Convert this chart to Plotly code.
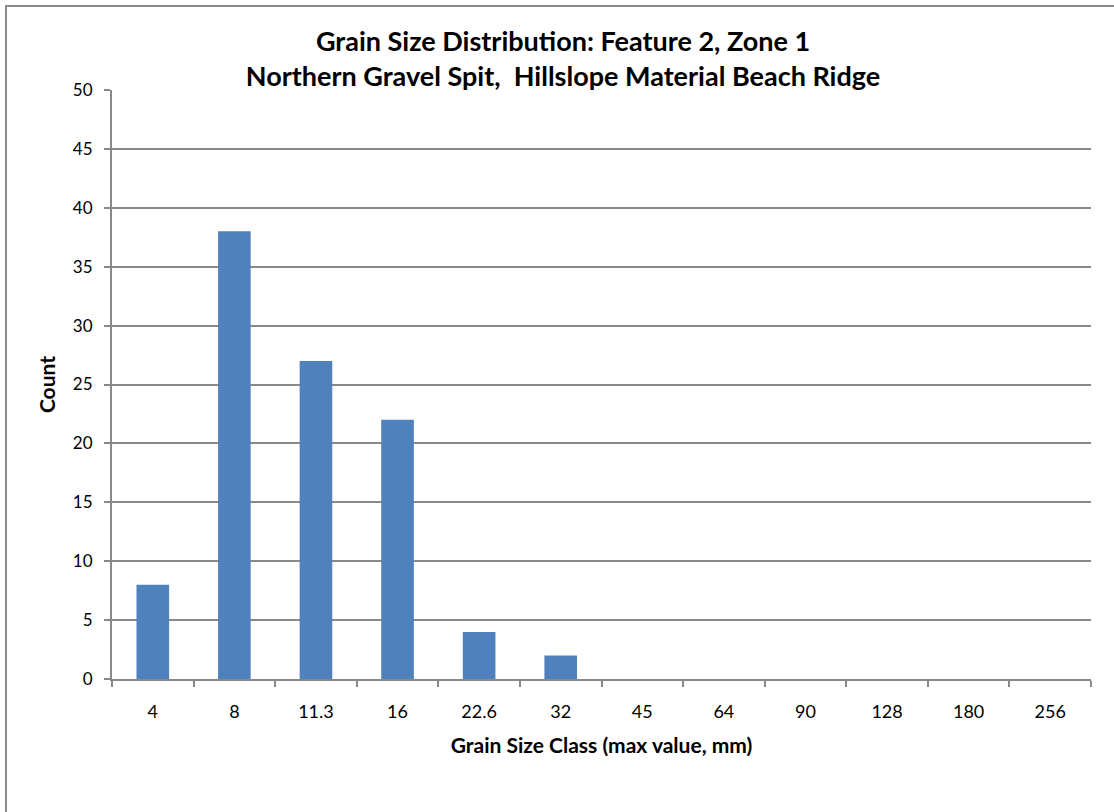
import plotly.graph_objects as go

categories = ["4", "8", "11.3", "16", "22.6", "32", "45", "64", "90", "128", "180", "256"]
counts = [8, 38, 27, 22, 4, 2, 0, 0, 0, 0, 0, 0]

title_lines = ["Grain Size Distribution: Feature 2, Zone 1",
               "Northern Gravel Spit,  Hillslope Material Beach Ridge"]

FONT = "Lato, 'Open Sans', sans-serif"
GRID = "#898989"

fig = go.Figure()
fig.add_trace(go.Bar(x=categories, y=counts, marker=dict(color="#4F81BD", line=dict(width=0)),
                     showlegend=False))

fig.update_layout(
    width=1114, height=812,
    margin=dict(l=112, r=23, t=90, b=133),
    paper_bgcolor="white", plot_bgcolor="white",
    bargap=0.6,
    font=dict(family=FONT, color="black", size=17),
    title=dict(text="<b>" + title_lines[0] + "<br>" + title_lines[1] + "</b>",
               x=563/1114, xref="container", xanchor="center",
               y=1 - 51/812, yref="container", yanchor="middle",
               font=dict(size=27, family=FONT, color="black")),
    shapes=[dict(type="rect", xref="paper", yref="paper",
                 x0=-106/979, x1=1.05, y0=-0.25, y1=1 + 84/589,
                 line=dict(color="#8c8c8c", width=2), fillcolor="rgba(0,0,0,0)", layer="below")],
)

fig.update_xaxes(
    type="category",
    showline=True, linecolor=GRID, linewidth=2,
    ticks="outside", tickson="boundaries", ticklen=6, tickcolor=GRID, tickwidth=2,
    showgrid=False,
    ticklabelstandoff=15,
    tickfont=dict(size=18, family=FONT),
    title=dict(text="<b>Grain Size Class (max value, mm)</b>", standoff=18,
               font=dict(size=21, family=FONT)),
)
fig.update_yaxes(
    range=[0, 50], dtick=5,
    showline=True, linecolor=GRID, linewidth=2,
    ticks="outside", ticklen=6, tickcolor=GRID, tickwidth=2,
    showgrid=True, gridcolor=GRID, gridwidth=2,
    zeroline=False,
    ticklabelstandoff=8,
    tickfont=dict(size=17, family=FONT),
    title=dict(text="<b>Count</b>", standoff=12, font=dict(size=21, family=FONT)),
)

fig.write_html("out.html", config={"displayModeBar": False},
               post_script="document.body.style.margin='0';")
